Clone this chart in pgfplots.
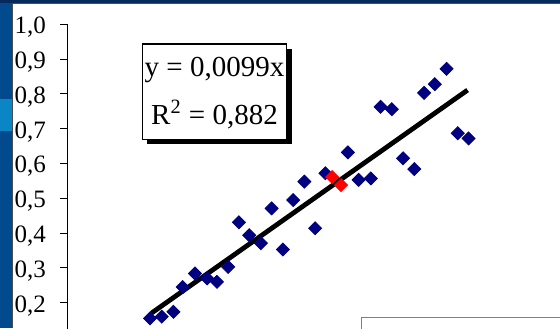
\documentclass[border=0pt]{standalone}
\usepackage{fontspec}
\setmainfont{Liberation Serif}
\usepackage{pgfplots}
\pgfplotsset{compat=1.18}
\definecolor{navy}{HTML}{000080}
\definecolor{slideblue}{HTML}{004A8D}
\definecolor{slidetop}{HTML}{06285A}
\definecolor{slidecyan}{HTML}{0A86C4}

% measured points (x, y)
\pgfplotstableread{
x y
16.9 0.155
19.3 0.160
21.7 0.174
23.6 0.245
26.1 0.284
28.6 0.270
30.6 0.260
32.9 0.303
35.1 0.431
37.2 0.394
39.6 0.371
41.8 0.471
44.1 0.353
46.2 0.495
48.5 0.548
50.7 0.414
52.8 0.572
57.4 0.632
59.6 0.553
62.1 0.557
64.1 0.763
66.4 0.756
68.7 0.615
71.0 0.584
73.0 0.803
75.2 0.828
77.6 0.872
79.9 0.687
82.1 0.672
}\pts

\begin{document}
\begin{tikzpicture}[x=1pt,y=1pt]
\useasboundingbox (0,0) rectangle (280,164);
\clip (0,0) rectangle (280,164);
% slide background
\fill[white] (0,0) rectangle (280,164);
\fill[slideblue] (0,0) rectangle (6,164);
\fill[slidecyan] (0,98.5) rectangle (6,114.5);
\fill[slidetop] (0,162.5) rectangle (280,164);
\draw[black!70, line width=0.5pt] (6.25,0) -- (6.25,162.25) -- (280,162.25);

\begin{axis}[
  at={(33.7pt,-22.15pt)}, anchor=south west,
  scale only axis, width=244.3pt, height=174pt,
  xmin=0, xmax=100, ymin=0, ymax=1,
  axis x line=none, axis y line*=left,
  ytick={0.2,0.3,0.4,0.5,0.6,0.7,0.8,0.9,1.0},
  tick align=outside, major tick length=3.5pt,
  y axis line style={line width=0.5pt, black},
  ytick style={line width=0.5pt, black},
  yticklabel style={/pgf/number format/.cd, use comma, fixed, fixed zerofill,
    precision=1, assume math mode=true, /tikz/.cd,
    font=\fontsize{12.5}{14}\selectfont, inner sep=0pt, anchor=east, xshift=-7pt, yshift=-1.5pt},
  legend columns=2,
  legend style={at={(0.601,0.160)}, anchor=north west, draw=gray, line width=0.5pt,
    fill=white, font=\fontsize{12.5}{14}\selectfont, inner xsep=11pt, inner ysep=6pt,
    /tikz/every even column/.append style={column sep=12pt}},
]
\addplot[only marks, mark=square*, mark size=2.3pt,
  mark options={rotate=45, fill=navy, draw=navy}] table[x=x, y=y] {\pts};
\addlegendentry{Ряд1}
\addplot[only marks, mark=square*, mark size=2.3pt, forget plot,
  mark options={rotate=45, fill=red, draw=red}] coordinates {(54.2,0.561) (56.0,0.538)};
\addplot[black, line width=2.4pt] coordinates {(17.2,0.170) (81.9,0.811)};
\addlegendentry{Линейный (Ряд1)}
\end{axis}

% equation box with shadow
\fill[black] (73.65,91.85) rectangle (145.85,139.5);
\draw[black, line width=0.6pt, fill=white] (71.15,94.35) rectangle (143.35,142);
\node[anchor=base, inner sep=0pt, font=\fontsize{14.5}{17}\selectfont] at (107.25,125.65) {y = 0,0099x};
\node[anchor=base, inner sep=0pt, font=\fontsize{14.5}{17}\selectfont] at (107.25,102) {R\textsuperscript{2} = 0,882};
\end{tikzpicture}
\end{document}
